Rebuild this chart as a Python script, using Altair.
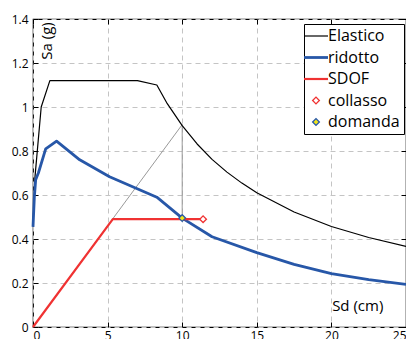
import altair as alt
import pandas as pd

# ---- data ----
el_x = [0, 0.13, 0.55, 1.13, 7.0, 8.3, 9, 10, 11, 12, 13, 14, 15, 17.5, 20, 22.5, 25]
el_y = [0.46, 0.68, 1.0, 1.12, 1.12, 1.10, 1.015, 0.915, 0.832, 0.762, 0.704, 0.654, 0.61, 0.523, 0.457, 0.407, 0.366]

rid_x = [0, 0.09, 0.18, 0.36, 0.85, 1.58, 3.13, 5.13, 8.3, 10, 12, 15, 17.5, 20, 22.5, 25]
rid_y = [0.455, 0.59, 0.67, 0.70, 0.81, 0.845, 0.76, 0.683, 0.59, 0.495, 0.41, 0.338, 0.285, 0.243, 0.215, 0.194]

sdof_x = [0, 5.35, 11.4]
sdof_y = [0, 0.49, 0.49]

guide_x = [0, 10, 10]
guide_y = [0, 0.92, 0.495]

collasso_x = [11.4]
collasso_y = [0.49]
domanda_x = [10]
domanda_y = [0.495]

series = ["Elastico", "ridotto", "SDOF", "collasso", "domanda"]
stroke_colors = ["#000000", "#2757a8", "#f03232", "#f03232", "#2757a8"]
fill_colors = ["transparent", "transparent", "transparent", "#ffffff", "#f0e41a"]
LINE_SYMBOL = "M-2,0H2"
shapes = [LINE_SYMBOL, LINE_SYMBOL, LINE_SYMBOL, "diamond", "diamond"]
widths = [1.2, 2.8, 2.2, 1.3, 1.3]
sizes = [144, 144, 144, 45, 45]

x_ticks = [0, 5, 10, 15, 20, 25]
y_ticks = [0, 0.2, 0.4, 0.6, 0.8, 1.0, 1.2, 1.4]

xlabel = ["Sd (cm)"]
xlabel_x = [20.05]
xlabel_y = [0.095]
ylabel = ["Sa (g)"]
ylabel_x = [0.95]
ylabel_y = [1.30]

# ---- tables ----
lines_df = pd.concat([
    pd.DataFrame({"sd": el_x, "sa": el_y, "serie": series[0]}),
    pd.DataFrame({"sd": rid_x, "sa": rid_y, "serie": series[1]}),
    pd.DataFrame({"sd": sdof_x, "sa": sdof_y, "serie": series[2]}),
], ignore_index=True)
guide_df = pd.DataFrame({"sd": guide_x, "sa": guide_y, "o": list(range(len(guide_x)))})
pts_df = pd.concat([
    pd.DataFrame({"sd": collasso_x, "sa": collasso_y, "serie": series[3]}),
    pd.DataFrame({"sd": domanda_x, "sa": domanda_y, "serie": series[4]}),
], ignore_index=True)
xl_df = pd.DataFrame({"sd": xlabel_x, "sa": xlabel_y, "t": xlabel})
yl_df = pd.DataFrame({"sd": ylabel_x, "sa": ylabel_y, "t": ylabel})

xs = alt.Scale(domain=[0, 25], nice=False, zero=False)
ys = alt.Scale(domain=[0, 1.4], nice=False, zero=False)

FONT = "Open Sans"

main_x_axis = alt.Axis(orient="bottom", values=x_ticks, grid=True, ticks=False, domain=False,
                       labelPadding=3, title=None, format="~g")
main_y_axis = alt.Axis(orient="left", values=y_ticks, grid=True, ticks=False, domain=False,
                       labelPadding=5, title=None, format="~g")


def tick_axis(orient):
    return alt.Axis(orient=orient, values=x_ticks if orient in ("bottom", "top") else y_ticks,
                    grid=False, labels=False, domain=False, ticks=True, tickSize=5,
                    offset=-5, title=None, tickColor="black", tickWidth=1)


def make_legend():
    return alt.Legend(
        title=None, orient="none", legendX=271, legendY=5, padding=4,
        strokeColor="black", fillColor="white", labelFont=FONT, labelFontSize=16,
        labelColor="black", rowPadding=5.5, symbolOffset=0, labelOffset=4,
        symbolOpacity=1,
    )


stroke_scale = alt.Scale(domain=series, range=stroke_colors)
width_scale = alt.Scale(type="ordinal", domain=series, range=widths)

lines = alt.Chart(lines_df).mark_line(strokeJoin="round").encode(
    x=alt.X("sd:Q", scale=xs, axis=main_x_axis),
    y=alt.Y("sa:Q", scale=ys, axis=main_y_axis),
    stroke=alt.Stroke("serie:N", scale=stroke_scale, legend=make_legend()),
    strokeWidth=alt.StrokeWidth("serie:N", scale=width_scale, legend=make_legend()),
)

guide = alt.Chart(guide_df).mark_line(color="#999999", strokeWidth=1).encode(
    x=alt.X("sd:Q", scale=xs, axis=tick_axis("bottom")),
    y=alt.Y("sa:Q", scale=ys, axis=tick_axis("left")),
    order="o:Q",
)

pts = alt.Chart(pts_df).mark_point(filled=True, opacity=1).encode(
    x=alt.X("sd:Q", scale=xs, axis=tick_axis("top")),
    y=alt.Y("sa:Q", scale=ys, axis=tick_axis("right")),
    stroke=alt.Stroke("serie:N", scale=stroke_scale, legend=make_legend()),
    fill=alt.Fill("serie:N", scale=alt.Scale(domain=series, range=fill_colors), legend=make_legend()),
    shape=alt.Shape("serie:N", scale=alt.Scale(domain=series, range=shapes), legend=make_legend()),
    size=alt.Size("serie:N", scale=alt.Scale(type="ordinal", domain=series, range=sizes), legend=make_legend()),
    strokeWidth=alt.StrokeWidth("serie:N", scale=width_scale, legend=make_legend()),
)

xl = alt.Chart(xl_df).mark_text(font=FONT, fontSize=15, align="left", baseline="middle", color="black").encode(
    x=alt.X("sd:Q", scale=xs, axis=None),
    y=alt.Y("sa:Q", scale=ys, axis=None),
    text="t:N",
)

yl = alt.Chart(yl_df).mark_text(font=FONT, fontSize=15, align="center", baseline="middle",
                                angle=270, color="black").encode(
    x=alt.X("sd:Q", scale=xs, axis=None),
    y=alt.Y("sa:Q", scale=ys, axis=None),
    text="t:N",
)

chart = alt.layer(guide, lines, pts, xl, yl).resolve_axis(
    x="independent", y="independent"
).properties(
    width=373, height=308,
    autosize=alt.AutoSizeParams(type="none"),
    padding={"left": 25, "top": 11, "right": 0, "bottom": 12},
).configure_view(
    stroke="black", strokeWidth=1.2
).configure_axis(
    labelFont=FONT, labelFontSize=12, labelColor="black",
    gridColor="#c4c4c4", gridDash=[5, 4], gridWidth=1,
)

chart.save("out.html", embed_options={"renderer": "svg", "actions": False})
